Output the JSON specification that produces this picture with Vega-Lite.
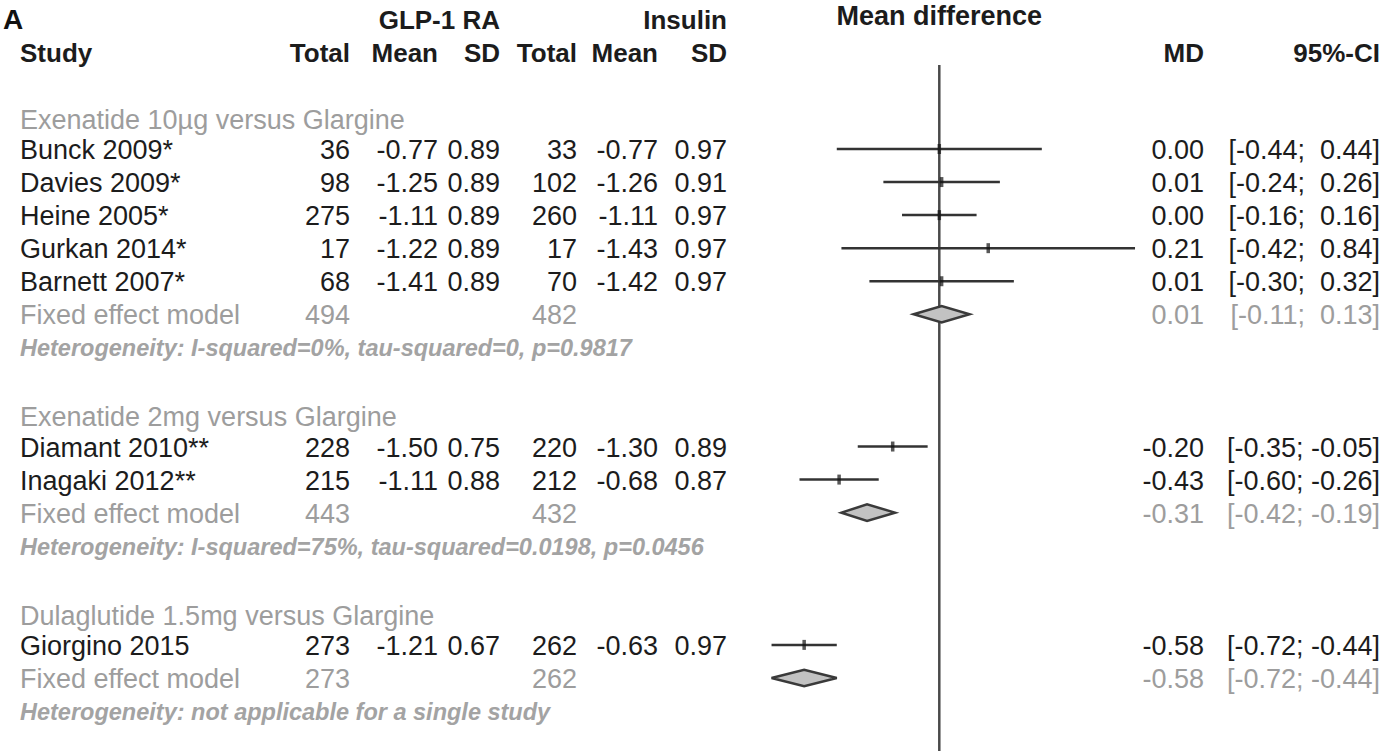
{
  "$schema": "https://vega.github.io/schema/vega-lite/v6.json",
  "width": 1389,
  "height": 751,
  "padding": 0,
  "autosize": {"type": "none"},
  "background": "white",
  "config": {
    "view": {"stroke": null},
    "text": {"font": "Liberation Sans"},
    "locale": {"number": {"decimal": ".", "thousands": ",", "grouping": [3], "currency": ["$", ""], "minus": "-"}}
  },
  "datasets": {
    "rows": [
      {"row": 1, "kind": "group", "label": "Exenatide 10µg versus Glargine"},
      {"row": 2, "kind": "study", "label": "Bunck 2009*", "n1": 36, "m1": -0.77, "s1": 0.89, "n2": 33, "m2": -0.77, "s2": 0.97, "md": 0.00, "lower": -0.44, "upper": 0.44},
      {"row": 3, "kind": "study", "label": "Davies 2009*", "n1": 98, "m1": -1.25, "s1": 0.89, "n2": 102, "m2": -1.26, "s2": 0.91, "md": 0.01, "lower": -0.24, "upper": 0.26},
      {"row": 4, "kind": "study", "label": "Heine 2005*", "n1": 275, "m1": -1.11, "s1": 0.89, "n2": 260, "m2": -1.11, "s2": 0.97, "md": 0.00, "lower": -0.16, "upper": 0.16},
      {"row": 5, "kind": "study", "label": "Gurkan 2014*", "n1": 17, "m1": -1.22, "s1": 0.89, "n2": 17, "m2": -1.43, "s2": 0.97, "md": 0.21, "lower": -0.42, "upper": 0.84},
      {"row": 6, "kind": "study", "label": "Barnett 2007*", "n1": 68, "m1": -1.41, "s1": 0.89, "n2": 70, "m2": -1.42, "s2": 0.97, "md": 0.01, "lower": -0.30, "upper": 0.32},
      {"row": 7, "kind": "pooled", "label": "Fixed effect model", "n1": 494, "n2": 482, "md": 0.01, "lower": -0.11, "upper": 0.13},
      {"row": 8, "kind": "het", "label": "Heterogeneity: I-squared=0%, tau-squared=0, p=0.9817"},
      {"row": 10, "kind": "group", "label": "Exenatide 2mg versus Glargine"},
      {"row": 11, "kind": "study", "label": "Diamant 2010**", "n1": 228, "m1": -1.50, "s1": 0.75, "n2": 220, "m2": -1.30, "s2": 0.89, "md": -0.20, "lower": -0.35, "upper": -0.05},
      {"row": 12, "kind": "study", "label": "Inagaki 2012**", "n1": 215, "m1": -1.11, "s1": 0.88, "n2": 212, "m2": -0.68, "s2": 0.87, "md": -0.43, "lower": -0.60, "upper": -0.26},
      {"row": 13, "kind": "pooled", "label": "Fixed effect model", "n1": 443, "n2": 432, "md": -0.31, "lower": -0.42, "upper": -0.19},
      {"row": 14, "kind": "het", "label": "Heterogeneity: I-squared=75%, tau-squared=0.0198, p=0.0456"},
      {"row": 16, "kind": "group", "label": "Dulaglutide 1.5mg versus Glargine"},
      {"row": 17, "kind": "study", "label": "Giorgino 2015", "n1": 273, "m1": -1.21, "s1": 0.67, "n2": 262, "m2": -0.63, "s2": 0.97, "md": -0.58, "lower": -0.72, "upper": -0.44},
      {"row": 18, "kind": "pooled", "label": "Fixed effect model", "n1": 273, "n2": 262, "md": -0.58, "lower": -0.72, "upper": -0.44},
      {"row": 19, "kind": "het", "label": "Heterogeneity: not applicable for a single study"}
    ],
    "headers": [
      {"panel": "tag", "text": "A", "col": 0, "row": -2},
      {"panel": "table", "text": "GLP-1 RA", "col": 3, "row": -2},
      {"panel": "table", "text": "Insulin", "col": 6, "row": -2},
      {"panel": "table", "text": "Study", "col": 0, "row": -1},
      {"panel": "table", "text": "Total", "col": 1, "row": -1},
      {"panel": "table", "text": "Mean", "col": 2, "row": -1},
      {"panel": "table", "text": "SD", "col": 3, "row": -1},
      {"panel": "table", "text": "Total", "col": 4, "row": -1},
      {"panel": "table", "text": "Mean", "col": 5, "row": -1},
      {"panel": "table", "text": "SD", "col": 6, "row": -1},
      {"panel": "table", "text": "MD", "col": 7, "row": -1},
      {"panel": "table", "text": "95%-CI", "col": 8, "row": -1},
      {"panel": "forest", "text": "Mean difference", "col": 0, "row": -2}
    ]
  },
  "encoding": {
    "y": {"field": "row", "type": "quantitative", "axis": null,
          "scale": {"domain": [2, 19], "range": [149, 711], "nice": false, "zero": false}}
  },
  "layer": [
    {
      "layer": [
        {
          "data": {"name": "rows"},
          "transform": [{"filter": "datum.kind == 'group'"}],
          "mark": {"type": "text", "align": "left", "baseline": "middle", "dy": 5, "fontSize": 27, "color": "#9d9d9d"},
          "encoding": {
            "x": {"datum": 0, "type": "quantitative", "axis": null, "scale": {"domain": [0, 1, 2, 3, 4, 5, 6, 7, 8], "range": [20, 350, 438, 500, 577, 658, 727, 1204, 1380], "nice": false, "zero": false}},
            "text": {"field": "label"}
          }
        },
        {
          "data": {"name": "rows"},
          "transform": [{"filter": "datum.kind == 'study' || datum.kind == 'pooled'"}],
          "mark": {"type": "text", "align": "left", "baseline": "middle", "dy": 2, "fontSize": 27},
          "encoding": {
            "x": {"datum": 0, "type": "quantitative", "axis": null, "scale": {"domain": [0, 1, 2, 3, 4, 5, 6, 7, 8], "range": [20, 350, 438, 500, 577, 658, 727, 1204, 1380], "nice": false, "zero": false}},
            "text": {"field": "label"},
            "color": {"condition": {"test": "datum.kind == 'study'", "value": "#1c1c1c"}, "value": "#9d9d9d"}
          }
        },
        {
          "data": {"name": "rows"},
          "transform": [{"filter": "datum.kind == 'het'"}],
          "mark": {"type": "text", "align": "left", "baseline": "middle", "dy": 2, "fontSize": 23.5, "fontStyle": "italic", "fontWeight": "bold", "color": "#a3a3a3"},
          "encoding": {
            "x": {"datum": 0, "type": "quantitative", "axis": null, "scale": {"domain": [0, 1, 2, 3, 4, 5, 6, 7, 8], "range": [20, 350, 438, 500, 577, 658, 727, 1204, 1380], "nice": false, "zero": false}},
            "text": {"field": "label"}
          }
        },
        {
          "data": {"name": "rows"},
          "transform": [{"filter": "isValid(datum.n1)"}],
          "mark": {"type": "text", "align": "right", "baseline": "middle", "dy": 2, "fontSize": 27},
          "encoding": {
            "x": {"datum": 1, "type": "quantitative", "axis": null, "scale": {"domain": [0, 1, 2, 3, 4, 5, 6, 7, 8], "range": [20, 350, 438, 500, 577, 658, 727, 1204, 1380], "nice": false, "zero": false}},
            "text": {"field": "n1", "type": "quantitative", "format": "d"},
            "color": {"condition": {"test": "datum.kind == 'study'", "value": "#1c1c1c"}, "value": "#9d9d9d"}
          }
        },
        {
          "data": {"name": "rows"},
          "transform": [{"filter": "isValid(datum.m1)"}],
          "mark": {"type": "text", "align": "right", "baseline": "middle", "dy": 2, "fontSize": 27, "color": "#1c1c1c"},
          "encoding": {
            "x": {"datum": 2, "type": "quantitative", "axis": null, "scale": {"domain": [0, 1, 2, 3, 4, 5, 6, 7, 8], "range": [20, 350, 438, 500, 577, 658, 727, 1204, 1380], "nice": false, "zero": false}},
            "text": {"field": "m1", "type": "quantitative", "format": ".2f"}
          }
        },
        {
          "data": {"name": "rows"},
          "transform": [{"filter": "isValid(datum.s1)"}],
          "mark": {"type": "text", "align": "right", "baseline": "middle", "dy": 2, "fontSize": 27, "color": "#1c1c1c"},
          "encoding": {
            "x": {"datum": 3, "type": "quantitative", "axis": null, "scale": {"domain": [0, 1, 2, 3, 4, 5, 6, 7, 8], "range": [20, 350, 438, 500, 577, 658, 727, 1204, 1380], "nice": false, "zero": false}},
            "text": {"field": "s1", "type": "quantitative", "format": ".2f"}
          }
        },
        {
          "data": {"name": "rows"},
          "transform": [{"filter": "isValid(datum.n2)"}],
          "mark": {"type": "text", "align": "right", "baseline": "middle", "dy": 2, "fontSize": 27},
          "encoding": {
            "x": {"datum": 4, "type": "quantitative", "axis": null, "scale": {"domain": [0, 1, 2, 3, 4, 5, 6, 7, 8], "range": [20, 350, 438, 500, 577, 658, 727, 1204, 1380], "nice": false, "zero": false}},
            "text": {"field": "n2", "type": "quantitative", "format": "d"},
            "color": {"condition": {"test": "datum.kind == 'study'", "value": "#1c1c1c"}, "value": "#9d9d9d"}
          }
        },
        {
          "data": {"name": "rows"},
          "transform": [{"filter": "isValid(datum.m2)"}],
          "mark": {"type": "text", "align": "right", "baseline": "middle", "dy": 2, "fontSize": 27, "color": "#1c1c1c"},
          "encoding": {
            "x": {"datum": 5, "type": "quantitative", "axis": null, "scale": {"domain": [0, 1, 2, 3, 4, 5, 6, 7, 8], "range": [20, 350, 438, 500, 577, 658, 727, 1204, 1380], "nice": false, "zero": false}},
            "text": {"field": "m2", "type": "quantitative", "format": ".2f"}
          }
        },
        {
          "data": {"name": "rows"},
          "transform": [{"filter": "isValid(datum.s2)"}],
          "mark": {"type": "text", "align": "right", "baseline": "middle", "dy": 2, "fontSize": 27, "color": "#1c1c1c"},
          "encoding": {
            "x": {"datum": 6, "type": "quantitative", "axis": null, "scale": {"domain": [0, 1, 2, 3, 4, 5, 6, 7, 8], "range": [20, 350, 438, 500, 577, 658, 727, 1204, 1380], "nice": false, "zero": false}},
            "text": {"field": "s2", "type": "quantitative", "format": ".2f"}
          }
        },
        {
          "data": {"name": "rows"},
          "transform": [{"filter": "isValid(datum.md)"}],
          "mark": {"type": "text", "align": "right", "baseline": "middle", "dy": 2, "fontSize": 27},
          "encoding": {
            "x": {"datum": 7, "type": "quantitative", "axis": null, "scale": {"domain": [0, 1, 2, 3, 4, 5, 6, 7, 8], "range": [20, 350, 438, 500, 577, 658, 727, 1204, 1380], "nice": false, "zero": false}},
            "text": {"field": "md", "type": "quantitative", "format": ".2f"},
            "color": {"condition": {"test": "datum.kind == 'study'", "value": "#1c1c1c"}, "value": "#9d9d9d"}
          }
        },
        {
          "data": {"name": "rows"},
          "transform": [
            {"filter": "isValid(datum.md)"},
            {"calculate": "'[' + format(datum.lower, '.2f') + ';' + (datum.upper < 0 ? ' ' : '\u00a0 ') + format(datum.upper, '.2f') + ']'", "as": "ci"}
          ],
          "mark": {"type": "text", "align": "right", "baseline": "middle", "dy": 2, "fontSize": 27},
          "encoding": {
            "x": {"datum": 8, "type": "quantitative", "axis": null, "scale": {"domain": [0, 1, 2, 3, 4, 5, 6, 7, 8], "range": [20, 350, 438, 500, 577, 658, 727, 1204, 1380], "nice": false, "zero": false}},
            "text": {"field": "ci"},
            "color": {"condition": {"test": "datum.kind == 'study'", "value": "#1c1c1c"}, "value": "#9d9d9d"}
          }
        },
        {
          "data": {"name": "headers"},
          "transform": [{"filter": "datum.panel == 'table' && datum.col == 0"}],
          "mark": {"type": "text", "align": "left", "baseline": "middle", "dy": 4, "fontSize": 26, "fontWeight": "bold", "color": "#1c1c1c"},
          "encoding": {
            "x": {"field": "col", "type": "quantitative", "axis": null, "scale": {"domain": [0, 1, 2, 3, 4, 5, 6, 7, 8], "range": [20, 350, 438, 500, 577, 658, 727, 1204, 1380], "nice": false, "zero": false}},
            "text": {"field": "text"}
          }
        },
        {
          "data": {"name": "headers"},
          "transform": [{"filter": "datum.panel == 'table' && datum.col > 0"}],
          "mark": {"type": "text", "align": "right", "baseline": "middle", "dy": 4, "fontSize": 26, "fontWeight": "bold", "color": "#1c1c1c"},
          "encoding": {
            "x": {"field": "col", "type": "quantitative", "axis": null, "scale": {"domain": [0, 1, 2, 3, 4, 5, 6, 7, 8], "range": [20, 350, 438, 500, 577, 658, 727, 1204, 1380], "nice": false, "zero": false}},
            "text": {"field": "text"}
          }
        },
        {
          "data": {"name": "headers"},
          "transform": [{"filter": "datum.panel == 'tag'"}],
          "mark": {"type": "text", "align": "left", "baseline": "alphabetic", "dx": -17, "dy": 12, "fontSize": 28, "fontWeight": "bold", "color": "#111111"},
          "encoding": {
            "x": {"field": "col", "type": "quantitative", "axis": null, "scale": {"domain": [0, 1, 2, 3, 4, 5, 6, 7, 8], "range": [20, 350, 438, 500, 577, 658, 727, 1204, 1380], "nice": false, "zero": false}},
            "text": {"field": "text"}
          }
        }
      ]
    },
    {
      "layer": [
        {
          "data": {"name": "rows"},
          "transform": [{"aggregate": [{"op": "min", "field": "row", "as": "first"}, {"op": "max", "field": "row", "as": "last"}]}],
          "mark": {"type": "rule", "color": "#4a4a4a", "strokeWidth": 2.5, "yOffset": -51, "y2Offset": 45},
          "encoding": {
            "x": {"datum": 0, "type": "quantitative", "axis": null, "scale": {"domain": [-1, 1], "range": [706.3, 1172.3], "nice": false, "zero": false}},
            "y": {"field": "first", "type": "quantitative", "axis": null, "scale": {"domain": [2, 19], "range": [149, 711], "nice": false, "zero": false}},
            "y2": {"field": "last"}
          }
        },
        {
          "data": {"name": "rows"},
          "transform": [{"filter": "datum.kind == 'study'"}],
          "mark": {"type": "rule", "color": "#333333", "strokeWidth": 2.5},
          "encoding": {
            "x": {"field": "lower", "type": "quantitative", "axis": null, "scale": {"domain": [-1, 1], "range": [706.3, 1172.3], "nice": false, "zero": false}},
            "x2": {"field": "upper"}
          }
        },
        {
          "data": {"name": "rows"},
          "transform": [{"filter": "datum.kind == 'study'"}],
          "mark": {"type": "tick", "orient": "vertical", "color": "#111111", "size": 10, "thickness": 3.5},
          "encoding": {
            "x": {"field": "md", "type": "quantitative", "axis": null, "scale": {"domain": [-1, 1], "range": [706.3, 1172.3], "nice": false, "zero": false}}
          }
        },
        {
          "data": {"name": "rows"},
          "transform": [
            {"filter": "datum.kind == 'pooled'"},
            {"fold": ["lower", "md", "upper"], "as": ["vertex", "xv"]},
            {"calculate": "datum.row - (datum.vertex == 'md' ? 0.25 : 0)", "as": "ytop"},
            {"calculate": "datum.row + (datum.vertex == 'md' ? 0.25 : 0)", "as": "ybot"}
          ],
          "mark": {"type": "area", "orient": "vertical", "color": "#c2c2c2", "stroke": "#3a3a3a", "strokeWidth": 2.5},
          "encoding": {
            "x": {"field": "xv", "type": "quantitative", "axis": null, "scale": {"domain": [-1, 1], "range": [706.3, 1172.3], "nice": false, "zero": false}},
            "y": {"field": "ytop", "type": "quantitative", "axis": null, "scale": {"domain": [2, 19], "range": [149, 711], "nice": false, "zero": false}},
            "y2": {"field": "ybot"},
            "detail": {"field": "row"}
          }
        },
        {
          "data": {"name": "headers"},
          "transform": [{"filter": "datum.panel == 'forest'"}],
          "mark": {"type": "text", "align": "center", "baseline": "middle", "dy": 0, "fontSize": 27, "fontWeight": "bold", "color": "#1c1c1c"},
          "encoding": {
            "x": {"datum": 0, "type": "quantitative", "axis": null, "scale": {"domain": [-1, 1], "range": [706.3, 1172.3], "nice": false, "zero": false}},
            "text": {"field": "text"}
          }
        }
      ]
    }
  ],
  "resolve": {"scale": {"x": "independent"}}
}
